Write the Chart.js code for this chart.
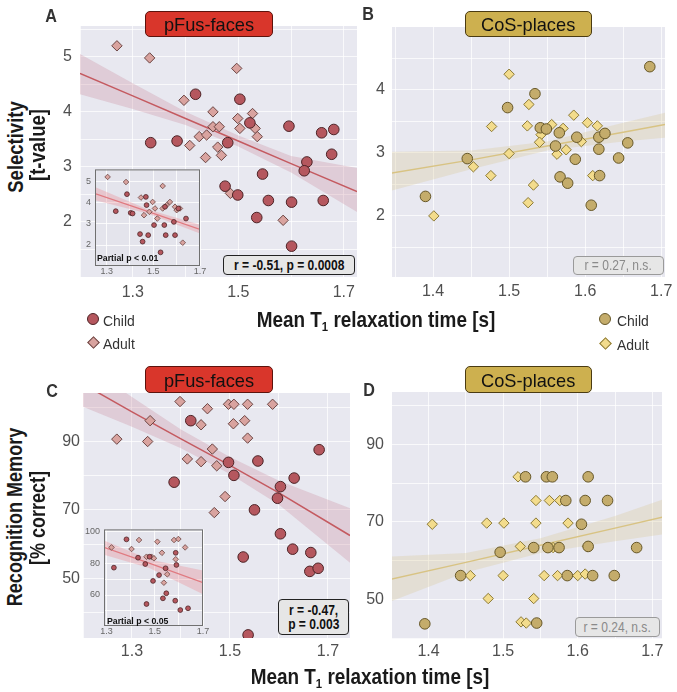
<!DOCTYPE html>
<html>
<head>
<meta charset="utf-8">
<script src="https://cdn.jsdelivr.net/npm/chart.js@4.4.1/dist/chart.umd.min.js"></script>
<style>
  body { margin: 0; background: #fff; }
  #fig { position: relative; width: 677px; height: 692px; overflow: hidden;
         font-family: "Liberation Sans", Arial, sans-serif; color: #111; }
  canvas { position: absolute; }
  .t { position: absolute; white-space: nowrap; line-height: 1; transform-origin: center; }
  .tbox { position: absolute; box-sizing: border-box; border: 1.5px solid; border-radius: 5px;
          display: flex; align-items: center; justify-content: center; font-size: 19px; padding-top: 2px; }
  .stat { position: absolute; box-sizing: border-box; border-radius: 4px; background: #e6e6e6;
          display: flex; flex-direction: column; align-items: center; justify-content: center; line-height: 1.02; }
  .stat span { display: inline-block; white-space: nowrap; }
  .mk { position: absolute; box-sizing: border-box; border: 1px solid; }
</style>
</head>
<body>
<div id="fig"></div>
<script>
// ---- A: pFus-faces selectivity vs T1 ----
const aChildX = [1.419, 1.503, 1.334, 1.384, 1.480, 1.522, 1.596, 1.658, 1.681, 1.677, 1.630, 1.625, 1.546, 1.475, 1.499, 1.557, 1.601, 1.661, 1.535, 1.601];
const aChildY = [4.32, 4.23, 3.44, 3.47, 3.44, 3.80, 3.74, 3.62, 3.68, 3.23, 3.09, 2.93, 2.87, 2.65, 2.49, 2.39, 2.36, 2.39, 2.08, 1.56];
const aAdultX = [1.270, 1.332, 1.497, 1.397, 1.452, 1.499, 1.527, 1.452, 1.464, 1.503, 1.532, 1.536, 1.426, 1.440, 1.408, 1.461, 1.468, 1.438, 1.485, 1.585];
const aAdultY = [5.20, 4.98, 4.79, 4.21, 4.00, 3.88, 3.97, 3.73, 3.73, 3.70, 3.70, 3.55, 3.55, 3.58, 3.39, 3.36, 3.21, 3.17, 2.52, 2.03];
const aFitX = [1.2, 1.3, 1.4, 1.5, 1.6, 1.725];
const aFitY = [4.70, 4.29, 3.88, 3.47, 3.06, 2.55];
const aFitHi = [5.05, 4.52, 4.00, 3.57, 3.20, 2.98];
const aFitLo = [4.32, 4.05, 3.76, 3.37, 2.90, 2.18];
// A inset (partial correlation)
const aInChildX = [1.387, 1.468, 1.471, 1.403, 1.339, 1.411, 1.550, 1.607, 1.588, 1.640, 1.503, 1.547, 1.443, 1.478, 1.553, 1.593, 1.454, 1.531];
const aInChildY = [4.42, 4.29, 3.90, 3.53, 3.61, 3.50, 3.82, 3.74, 3.10, 3.26, 2.95, 2.95, 2.52, 2.47, 2.47, 2.47, 2.16, 1.65];
const aInAdultX = [1.304, 1.383, 1.540, 1.447, 1.497, 1.571, 1.557, 1.507, 1.483, 1.593, 1.600, 1.614, 1.540, 1.460, 1.517, 1.626];
const aInAdultY = [5.24, 5.00, 4.81, 4.26, 4.05, 4.05, 3.90, 3.74, 3.58, 3.82, 3.66, 3.74, 3.74, 3.42, 3.26, 2.11];
const aInFitX = [1.25, 1.475, 1.7];
const aInFitY = [4.45, 3.60, 2.74];
const aInFitHi = [4.76, 3.70, 2.97];
const aInFitLo = [4.13, 3.50, 2.55];

// ---- B: CoS-places selectivity vs T1 ----
const bChildX = [1.390, 1.445, 1.498, 1.534, 1.541, 1.549, 1.566, 1.561, 1.567, 1.577, 1.587, 1.589, 1.618, 1.626, 1.618, 1.619, 1.608, 1.644, 1.656, 1.685];
const bChildY = [2.31, 2.91, 3.72, 3.94, 3.40, 3.38, 3.32, 3.11, 2.62, 2.52, 2.90, 3.25, 3.25, 3.31, 3.06, 2.64, 2.17, 2.92, 3.16, 4.37];
const bAdultX = [1.401, 1.453, 1.477, 1.476, 1.500, 1.500, 1.526, 1.524, 1.532, 1.525, 1.542, 1.540, 1.556, 1.571, 1.563, 1.575, 1.585, 1.595, 1.603, 1.616, 1.610];
const bAdultY = [2.00, 2.78, 3.42, 2.64, 4.25, 2.99, 3.77, 3.43, 2.49, 2.21, 3.29, 3.17, 3.45, 3.39, 2.98, 3.05, 3.60, 3.18, 3.48, 3.43, 2.64];
const bFitX = [1.345, 1.45, 1.55, 1.65, 1.705];
const bFitY = [2.68, 2.89, 3.11, 3.33, 3.45];
const bFitHi = [3.02, 3.04, 3.18, 3.48, 3.64];
const bFitLo = [2.40, 2.74, 3.04, 3.18, 3.24];

// ---- C: pFus-faces recognition memory vs T1 ----
const cChildX = [1.420, 1.386, 1.497, 1.508, 1.557, 1.631, 1.603, 1.597, 1.550, 1.682, 1.603, 1.527, 1.628, 1.665, 1.663, 1.680, 1.537];
const cChildY = [96.1, 78.1, 83.9, 80.1, 84.3, 79.3, 76.8, 73.4, 70.0, 87.6, 63.0, 56.2, 58.5, 57.5, 52.0, 52.9, 33.4];
const cAdultX = [1.269, 1.337, 1.332, 1.398, 1.454, 1.441, 1.497, 1.508, 1.536, 1.587, 1.507, 1.530, 1.536, 1.464, 1.413, 1.441, 1.473, 1.490, 1.468];
const cAdultY = [90.7, 96.1, 90.0, 101.7, 99.6, 94.9, 100.9, 100.9, 100.9, 100.9, 95.2, 96.1, 91.0, 87.8, 84.9, 84.1, 82.9, 73.9, 69.2];
const cFitX = [1.2, 1.3, 1.4, 1.5, 1.6, 1.745];
const cFitY = [106.8, 98.7, 90.8, 83.0, 75.0, 62.5];
const cFitHi = [113.0, 103.0, 93.5, 85.5, 78.5, 70.5];
const cFitLo = [100.2, 94.3, 88.0, 80.5, 71.5, 54.5];
// C inset (partial correlation)
const cInChildX = [1.383, 1.431, 1.479, 1.461, 1.331, 1.587, 1.590, 1.545, 1.518, 1.493, 1.548, 1.534, 1.585, 1.466, 1.606, 1.638];
const cInChildY = [95.2, 83.6, 84.2, 79.6, 77.3, 86.7, 79.0, 76.9, 72.6, 68.9, 61.1, 57.9, 56.4, 54.3, 50.5, 51.6];
const cInAdultX = [1.321, 1.435, 1.511, 1.580, 1.598, 1.626, 1.404, 1.530, 1.466, 1.487, 1.497, 1.587, 1.552, 1.538];
const cInAdultY = [90.1, 94.8, 93.7, 94.8, 95.4, 90.1, 89.1, 86.7, 84.2, 84.2, 83.2, 82.6, 73.1, 67.8];
const cInFitX = [1.29, 1.48, 1.70];
const cInFitY = [90.1, 80.0, 67.8];
const cInFitHi = [94.5, 82.5, 75.5];
const cInFitLo = [85.5, 77.0, 60.5];

// ---- D: CoS-places recognition memory vs T1 ----
const dChildX = [1.395, 1.443, 1.496, 1.530, 1.558, 1.566, 1.614, 1.541, 1.560, 1.575, 1.614, 1.584, 1.610, 1.640, 1.605, 1.586, 1.620, 1.649, 1.679, 1.545];
const dChildY = [43.8, 56.2, 62.2, 81.6, 81.6, 81.6, 81.6, 63.4, 63.4, 63.4, 63.7, 75.5, 75.5, 75.5, 69.4, 56.2, 56.2, 56.2, 63.4, 44.0];
const dAdultX = [1.405, 1.456, 1.478, 1.501, 1.480, 1.500, 1.520, 1.544, 1.562, 1.576, 1.544, 1.587, 1.523, 1.567, 1.613, 1.555, 1.573, 1.600, 1.610, 1.541, 1.524, 1.531];
const dAdultY = [69.4, 56.2, 69.7, 69.7, 50.3, 56.2, 81.6, 75.5, 75.5, 75.5, 69.7, 69.7, 63.7, 63.4, 63.7, 56.2, 56.2, 56.2, 56.6, 50.3, 44.3, 44.0];
const dFitX = [1.35, 1.45, 1.55, 1.65, 1.715];
const dFitY = [55.3, 59.6, 64.0, 68.4, 71.3];
const dFitHi = [61.1, 62.0, 65.8, 71.5, 75.8];
const dFitLo = [49.6, 57.0, 62.0, 65.0, 66.8];

// ---- axes: tick labels and grid positions ----
const aXTicks = [1.3, 1.5, 1.7], aXGrid = [1.2, 1.3, 1.4, 1.5, 1.6, 1.7];
const aYTicks = [2, 3, 4, 5], aYGrid = [1.5, 2, 2.5, 3, 3.5, 4, 4.5, 5, 5.5];
const bXTicks = [1.4, 1.5, 1.6, 1.7], bXGrid = [1.35, 1.4, 1.45, 1.5, 1.55, 1.6, 1.65, 1.7];
const bYTicks = [2, 3, 4], bYGrid = [1.5, 2, 2.5, 3, 3.5, 4, 4.5];
const cXTicks = [1.3, 1.5, 1.7], cXGrid = [1.2, 1.3, 1.4, 1.5, 1.6, 1.7];
const cYTicks = [50, 70, 90], cYGrid = [40, 50, 60, 70, 80, 90, 100];
const dXTicks = [1.4, 1.5, 1.6, 1.7], dXGrid = [1.35, 1.4, 1.45, 1.5, 1.55, 1.6, 1.65, 1.7];
const dYTicks = [50, 70, 90], dYGrid = [40, 50, 60, 70, 80, 90, 100];
const inXTicks = [1.3, 1.5, 1.7], inXGrid = [1.3, 1.4, 1.5, 1.6, 1.7];
const aInYTicks = [2, 3, 4, 5];
const cInYTicks = [60, 80, 100], cInYGrid = [50, 60, 70, 80, 90, 100];

const FONT = '"Liberation Sans", Arial, sans-serif';
const fig = document.getElementById('fig');

const faceStyle = { child: '#b5575e', childEdge: '#4d2326', adult: '#d9a39f', adultEdge: '#6b4543',
                    line: '#c45a60', band: 'rgba(196,120,140,0.25)' };
const cosStyle = { child: '#c4ac6b', childEdge: '#675829', adult: '#f3dc8c', adultEdge: '#8c7a36',
                   line: '#d8c383', band: 'rgba(214,198,150,0.3)' };
const faceInset = Object.assign({}, faceStyle, { line: '#e07a80', band: 'rgba(236,140,150,0.35)' });

const plotBg = {
    id: 'plotBg',
    beforeDraw(chart, args, o) {
        const a = chart.chartArea, ctx = chart.ctx;
        ctx.save();
        ctx.fillStyle = o.color;
        ctx.fillRect(a.left, a.top, a.right - a.left, a.bottom - a.top);
        ctx.restore();
    },
    afterDraw(chart, args, o) {
        if (!o.border) return;
        const a = chart.chartArea, ctx = chart.ctx;
        ctx.save();
        ctx.strokeStyle = o.border;
        ctx.lineWidth = 1;
        ctx.strokeRect(a.left + 0.5, a.top + 0.5, a.right - a.left - 1, a.bottom - a.top - 1);
        ctx.restore();
    }
};

function pts(xs, ys) {
    return xs.map((x, i) => ({ x: x, y: ys[i] }));
}

function hasTick(list, v) {
    return list.some(t => Math.abs(t - v) < 1e-6);
}

// p.area = [left, top, width, height] of the plot area in page pixels
function makePanel(p) {
    const c = document.createElement('canvas');
    c.width = p.area[2] + p.yw + p.padR;
    c.height = p.area[3] + p.padTop + p.xh;
    c.style.left = (p.area[0] - p.yw) + 'px';
    c.style.top = (p.area[1] - p.padTop) + 'px';
    fig.appendChild(c);
    const s = p.style;

    return new Chart(c.getContext('2d'), {
        type: 'scatter',
        data: {
            datasets: [
                { data: pts(p.childX, p.childY), pointStyle: 'circle', pointRadius: p.rc,
                  backgroundColor: s.child, borderColor: s.childEdge, borderWidth: p.bw, order: 0 },
                { data: pts(p.adultX, p.adultY), pointStyle: 'rectRot', pointRadius: p.ra,
                  backgroundColor: s.adult, borderColor: s.adultEdge, borderWidth: p.bw, order: 1 },
                { type: 'line', data: pts(p.fitX, p.fitY), borderColor: s.line, borderWidth: p.lw,
                  pointRadius: 0, fill: false, order: 2 },
                { type: 'line', data: pts(p.fitX, p.fitHi), borderColor: 'transparent', borderWidth: 0,
                  pointRadius: 0, fill: '+1', backgroundColor: s.band, order: 3 },
                { type: 'line', data: pts(p.fitX, p.fitLo), borderColor: 'transparent', borderWidth: 0,
                  pointRadius: 0, fill: false, order: 4 }
            ]
        },
        options: {
            responsive: false,
            animation: false,
            events: [],
            layout: { padding: { top: p.padTop, right: p.padR, left: 0, bottom: 0 } },
            plugins: {
                legend: { display: false },
                tooltip: { enabled: false },
                plotBg: { color: p.bg, border: p.border }
            },
            scales: {
                x: {
                    type: 'linear', min: p.xMin, max: p.xMax,
                    afterBuildTicks: sc => { sc.ticks = p.xGrid.map(v => ({ value: v })); },
                    afterFit: sc => { sc.height = p.xh; },
                    ticks: { autoSkip: false, maxRotation: 0, padding: p.xPad, color: p.tickColor,
                             font: { family: FONT, size: p.fs },
                             callback: v => hasTick(p.xTicks, v) ? v.toFixed(1) : '' },
                    grid: { color: p.grid, lineWidth: 1, drawTicks: false },
                    border: { display: false }
                },
                y: {
                    type: 'linear', min: p.yMin, max: p.yMax,
                    afterBuildTicks: sc => { sc.ticks = p.yGrid.map(v => ({ value: v })); },
                    afterFit: sc => { sc.width = p.yw; },
                    ticks: { autoSkip: false, padding: p.yPad, color: p.tickColor,
                             font: { family: FONT, size: p.fs },
                             callback: v => hasTick(p.yTicks, v) ? String(Math.round(v)) : '' },
                    grid: { color: p.grid, lineWidth: 1, drawTicks: false },
                    border: { display: false }
                }
            }
        },
        plugins: [plotBg]
    });
}

const mainBase = { yw: 50, padTop: 20, padR: 20, xh: 40, rc: 5.3, ra: 5.2, bw: 1, lw: 1.5, fs: 16,
                   tickColor: '#505050', grid: 'rgba(255,255,255,0.75)', bg: '#e8e8f0', border: null };
const insetBase = { yw: 24, padTop: 9, padR: 10, xh: 12, rc: 2.4, ra: 2.8, bw: 0.8, lw: 1.2, fs: 9,
                    tickColor: '#666', grid: 'rgba(255,255,255,0.8)', bg: '#e4e4ec', border: '#707070',
                    xPad: 0, yPad: 4, xTicks: inXTicks, xGrid: inXGrid };

makePanel(Object.assign({}, mainBase, {
    area: [80, 26, 277, 251], xMin: 1.2, xMax: 1.725, yMin: 1.0, yMax: 5.56, xPad: 6, yPad: 8,
    xTicks: aXTicks, xGrid: aXGrid, yTicks: aYTicks, yGrid: aYGrid, style: faceStyle,
    childX: aChildX, childY: aChildY, adultX: aAdultX, adultY: aAdultY,
    fitX: aFitX, fitY: aFitY, fitHi: aFitHi, fitLo: aFitLo
}));
makePanel(Object.assign({}, mainBase, {
    area: [392, 27, 273, 250], xMin: 1.346, xMax: 1.705, yMin: 1.03, yMax: 5.0, xPad: 5, yPad: 7,
    xTicks: bXTicks, xGrid: bXGrid, yTicks: bYTicks, yGrid: bYGrid, style: cosStyle,
    childX: bChildX, childY: bChildY, adultX: bAdultX, adultY: bAdultY,
    fitX: bFitX, fitY: bFitY, fitHi: bFitHi, fitLo: bFitLo
}));
makePanel(Object.assign({}, mainBase, {
    area: [83, 393, 267, 245], xMin: 1.2, xMax: 1.745, yMin: 32.5, yMax: 104.2, xPad: 4, yPad: 3,
    xTicks: cXTicks, xGrid: cXGrid, yTicks: cYTicks, yGrid: cYGrid, style: faceStyle,
    childX: cChildX, childY: cChildY, adultX: cAdultX, adultY: cAdultY,
    fitX: cFitX, fitY: cFitY, fitHi: cFitHi, fitLo: cFitLo
}));
makePanel(Object.assign({}, mainBase, {
    area: [392, 392, 270, 247], xMin: 1.351, xMax: 1.713, yMin: 39.9, yMax: 103.4, xPad: 3, yPad: 8,
    xTicks: dXTicks, xGrid: dXGrid, yTicks: dYTicks, yGrid: dYGrid, style: cosStyle,
    childX: dChildX, childY: dChildY, adultX: dAdultX, adultY: dAdultY,
    fitX: dFitX, fitY: dFitY, fitHi: dFitHi, fitLo: dFitLo
}));
// insets
makePanel(Object.assign({}, insetBase, {
    area: [95, 169, 105, 97], xMin: 1.25, xMax: 1.7, yMin: 1.0, yMax: 5.6,
    yTicks: aInYTicks, yGrid: aInYTicks, style: faceInset,
    childX: aInChildX, childY: aInChildY, adultX: aInAdultX, adultY: aInAdultY,
    fitX: aInFitX, fitY: aInFitY, fitHi: aInFitHi, fitLo: aInFitLo
}));
makePanel(Object.assign({}, insetBase, {
    area: [104, 529, 99, 97], xMin: 1.29, xMax: 1.70, yMin: 40.4, yMax: 101.5,
    yTicks: cInYTicks, yGrid: cInYGrid, style: faceInset,
    childX: cInChildX, childY: cInChildY, adultX: cInAdultX, adultY: cInAdultY,
    fitX: cInFitX, fitY: cInFitY, fitHi: cInFitHi, fitLo: cInFitLo
}));

// ---- text and decorations ----
function txt(html, cx, cy, css, tf) {
    const d = document.createElement('div');
    d.className = 't';
    d.innerHTML = html;
    d.style.left = cx + 'px';
    d.style.top = cy + 'px';
    d.style.transform = 'translate(-50%,-50%) ' + (tf || '');
    Object.assign(d.style, css || {});
    fig.appendChild(d);
    return d;
}

function titleBox(label, x, y, w, h, fill, edge) {
    const d = document.createElement('div');
    d.className = 'tbox';
    Object.assign(d.style, { left: x + 'px', top: y + 'px', width: w + 'px', height: h + 'px',
                             background: fill, borderColor: edge });
    d.innerHTML = '<span style="display:inline-block;transform:scaleX(0.96)">' + label + '</span>';
    fig.appendChild(d);
}

function statBox(lines, x, y, w, h, css, spanCss) {
    const d = document.createElement('div');
    d.className = 'stat';
    Object.assign(d.style, { left: x + 'px', top: y + 'px', width: w + 'px', height: h + 'px' }, css);
    d.innerHTML = lines.map(l => '<span style="' + spanCss + '">' + l + '</span>').join('');
    fig.appendChild(d);
}

function marker(shape, cx, cy, fill, edge) {
    const d = document.createElement('div');
    d.className = 'mk';
    const sz = shape === 'circle' ? 12 : 9;
    Object.assign(d.style, { left: (cx - sz / 2) + 'px', top: (cy - sz / 2) + 'px', width: sz + 'px', height: sz + 'px',
                             background: fill, borderColor: edge,
                             borderRadius: shape === 'circle' ? '50%' : '0',
                             transform: shape === 'circle' ? 'none' : 'rotate(45deg)' });
    fig.appendChild(d);
}

// panel letters
const letterCss = { fontSize: '19px', fontWeight: 'bold', color: '#333' };
txt('A', 51, 15, letterCss, 'scaleX(0.85)');
txt('B', 368, 13, letterCss, 'scaleX(0.85)');
txt('C', 52, 390, letterCss, 'scaleX(0.85)');
txt('D', 369, 389, letterCss, 'scaleX(0.85)');

// region title boxes
titleBox('pFus-faces', 145, 11, 128, 26, '#d9362b', '#5c130d');
titleBox('CoS-places', 465, 11, 127, 26, '#cdb04f', '#4a3b12');
titleBox('pFus-faces', 145, 366, 128, 27, '#d9362b', '#5c130d');
titleBox('CoS-places', 465, 366, 127, 27, '#cdb04f', '#4a3b12');

// axis titles
const axCss = { fontSize: '22px', fontWeight: 'bold', color: '#1a1a1a' };
const sub = '<sub style="font-size:0.6em;vertical-align:-0.3em">1</sub>';
txt('Mean T' + sub + ' relaxation time [s]', 376, 321, axCss, 'scaleX(0.86)');
txt('Mean T' + sub + ' relaxation time [s]', 370, 678, axCss, 'scaleX(0.86)');
txt('Selectivity', 16, 147, axCss, 'rotate(-90deg) scaleX(0.84)');
txt('[t-value]', 38, 145, axCss, 'rotate(-90deg) scaleX(0.84)');
txt('Recognition Memory', 15, 517, axCss, 'rotate(-90deg) scaleX(0.82)');
txt('[% correct]', 38, 518, axCss, 'rotate(-90deg) scaleX(0.82)');

// statistics boxes
const boldSpan = 'font-weight:bold;font-size:14px;transform:scaleX(0.86);color:#111';
const graySpan = 'font-size:14px;transform:scaleX(0.86);color:#8a8a8a';
statBox(['r = -0.51, p = 0.0008'], 223, 255, 132, 20, { border: '1.5px solid #222' }, boldSpan);
statBox(['r = 0.27, n.s.'], 573, 256, 91, 19, { border: '1.5px solid #9a9a9a' }, graySpan);
statBox(['r = -0.47,', 'p = 0.003'], 278, 599, 71, 36, { border: '1.5px solid #222' }, boldSpan);
statBox(['r = 0.24, n.s.'], 575, 617, 85, 20, { border: '1.5px solid #9a9a9a' }, graySpan);

// inset captions
const capCss = { fontSize: '9.5px', fontWeight: 'bold', color: '#111', transformOrigin: 'left center' };
txt('Partial p &lt; 0.01', 97, 258, capCss).style.transform = 'translate(0,-50%) scaleX(0.92)';
txt('Partial p &lt; 0.05', 107, 621, capCss).style.transform = 'translate(0,-50%) scaleX(0.92)';

// legends
const legCss = { fontSize: '15px', color: '#333', transformOrigin: 'left center' };
marker('circle', 93, 319, faceStyle.child, faceStyle.childEdge);
marker('diamond', 93, 342, faceStyle.adult, faceStyle.adultEdge);
txt('Child', 103, 320, legCss).style.transform = 'translate(0,-50%) scaleX(0.93)';
txt('Adult', 103, 343, legCss).style.transform = 'translate(0,-50%) scaleX(0.93)';
marker('circle', 605, 319, cosStyle.child, cosStyle.childEdge);
marker('diamond', 605, 343, cosStyle.adult, cosStyle.adultEdge);
txt('Child', 617, 320, legCss).style.transform = 'translate(0,-50%) scaleX(0.93)';
txt('Adult', 617, 344, legCss).style.transform = 'translate(0,-50%) scaleX(0.93)';
</script>
</body>
</html>
